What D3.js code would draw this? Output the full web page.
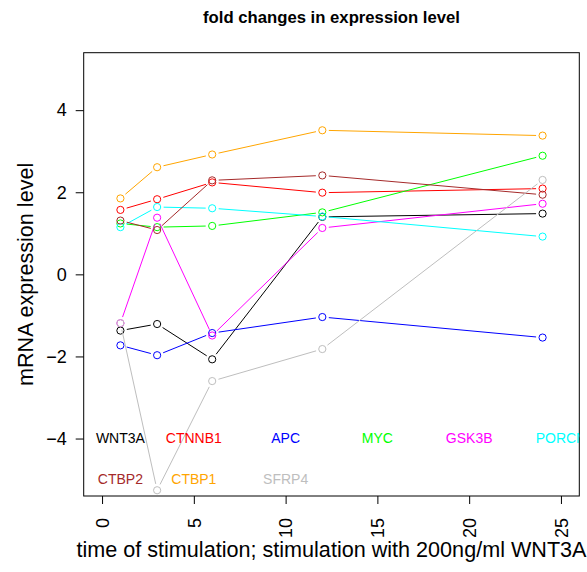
<!DOCTYPE html>
<html>
<head>
<meta charset="utf-8">
<script src="https://cdn.jsdelivr.net/npm/d3@7"></script>
<style>
  body { margin: 0; background: #fff; }
  svg { display: block; font-family: "Liberation Sans", Arial, sans-serif; }
</style>
</head>
<body>
<svg id="chart" width="587" height="572"></svg>
<script>
// time points (hours)
const times = [1, 3, 6, 12, 24];

const genes = ["WNT3A", "CTNNB1", "APC", "MYC", "GSK3B", "PORCN", "CTBP2", "CTBP1", "SFRP4"];
const geneColors = ["#000000", "#ff0000", "#0000ff", "#00ff00", "#ff00ff", "#00ffff", "#a52a2a", "#ffa500", "#bebebe"];

// fold changes
const wnt3a  = [-1.37, -1.21, -2.07, 1.40, 1.48];
const ctnnb1 = [1.57, 1.83, 2.24, 1.99, 2.09];
const apc    = [-1.73, -1.97, -1.43, -1.04, -1.54];
const myc    = [1.24, 1.15, 1.18, 1.51, 2.89];
const gsk3b  = [-1.19, 1.38, -1.49, 1.13, 1.72];
const porcn  = [1.15, 1.64, 1.61, 1.41, 0.92];
const ctbp2  = [1.31, 1.08, 2.29, 2.41, 1.94];
const ctbp1  = [1.85, 2.61, 2.92, 3.51, 3.38];
const sfrp4  = [-1.19, -5.26, -2.60, -1.82, 2.30];
const seriesValues = [wnt3a, ctnnb1, apc, myc, gsk3b, porcn, ctbp2, ctbp1, sfrp4];

// label positions inside the plot (data coords)
const labelX = [1, 5, 10, 15, 20, 25, 1, 5, 10];
const labelY = [-4, -4, -4, -4, -4, -4, -5, -5, -5];

const xTicks = [0, 5, 10, 15, 20, 25];
const yTicks = [-4, -2, 0, 2, 4];

const svg = d3.select("#chart");
const box = { left: 83.7, right: 579.3, top: 52.7, bottom: 496 };

const x = d3.scaleLinear().domain([-1, 26]).range([box.left, box.right]);
const y = d3.scaleLinear().domain([-5.4, 5.4]).range([box.bottom, box.top]);

svg.append("defs").append("clipPath").attr("id", "plotclip")
  .append("rect")
  .attr("x", box.left).attr("y", box.top)
  .attr("width", box.right - box.left).attr("height", box.bottom - box.top);

// title
svg.append("text")
  .attr("x", (box.left + box.right) / 2).attr("y", 23)
  .attr("text-anchor", "middle")
  .style("font-size", "16.7px").style("font-weight", "bold")
  .text("fold changes in expression level");

// axes
const xAxis = svg.append("g")
  .attr("transform", `translate(0,${box.bottom})`)
  .call(d3.axisBottom(x).tickValues(xTicks).tickSize(8).tickSizeOuter(0));
xAxis.select(".domain").remove();
xAxis.selectAll("line").attr("stroke", "#000");
xAxis.selectAll("text")
  .attr("transform", "rotate(-90)")
  .attr("text-anchor", "end")
  .attr("x", -22).attr("y", 0).attr("dy", "0.35em")
  .style("font-size", "18px").attr("fill", "#000")
  .style("font-family", "'Liberation Sans', Arial, sans-serif");

const yAxis = svg.append("g")
  .attr("transform", `translate(${box.left},0)`)
  .call(d3.axisLeft(y).tickValues(yTicks).tickSize(8).tickPadding(9).tickSizeOuter(0)
    .tickFormat(d => d < 0 ? "\u2212" + Math.abs(d) : d));
yAxis.select(".domain").remove();
yAxis.selectAll("line").attr("stroke", "#000");
yAxis.selectAll("text")
  .style("font-size", "18px").attr("fill", "#000")
  .style("font-family", "'Liberation Sans', Arial, sans-serif");

// plot box
svg.append("rect")
  .attr("x", box.left).attr("y", box.top)
  .attr("width", box.right - box.left).attr("height", box.bottom - box.top)
  .attr("fill", "none").attr("stroke", "#000").attr("stroke-width", 1);

// axis labels
svg.append("text")
  .attr("x", (box.left + box.right) / 2).attr("y", 557)
  .attr("text-anchor", "middle").style("font-size", "21.6px")
  .text("time of stimulation; stimulation with 200ng/ml WNT3A");

svg.append("text")
  .attr("transform", `translate(33,${(box.top + box.bottom) / 2}) rotate(-90)`)
  .attr("text-anchor", "middle").style("font-size", "21.6px")
  .text("mRNA expression level");

// lines + points, R type="b" style (segments stop short of the circles)
const plot = svg.append("g").attr("clip-path", "url(#plotclip)");
const gap = 6.5;
const r = 3.6;

seriesValues.forEach((vals, i) => {
  const g = plot.append("g");
  const pts = times.map((t, k) => [x(t), y(vals[k])]);
  const segs = d3.pairs(pts).map(([a, b]) => {
    const dx = b[0] - a[0], dy = b[1] - a[1];
    const len = Math.hypot(dx, dy);
    const ux = dx / len, uy = dy / len;
    return [a[0] + ux * gap, a[1] + uy * gap, b[0] - ux * gap, b[1] - uy * gap, len];
  }).filter(s => s[4] > 2 * gap);

  g.selectAll("line").data(segs).join("line")
    .attr("x1", d => d[0]).attr("y1", d => d[1])
    .attr("x2", d => d[2]).attr("y2", d => d[3])
    .attr("stroke", geneColors[i]).attr("stroke-width", 1);

  g.selectAll("circle").data(pts).join("circle")
    .attr("cx", d => d[0]).attr("cy", d => d[1]).attr("r", r)
    .attr("fill", "none").attr("stroke", geneColors[i]).attr("stroke-width", 1);
});

// gene labels
plot.selectAll("text.gene").data(genes).join("text")
  .attr("class", "gene")
  .attr("x", (d, i) => x(labelX[i]))
  .attr("y", (d, i) => y(labelY[i]))
  .attr("dy", "0.35em")
  .attr("text-anchor", "middle")
  .style("font-size", "14px")
  .attr("fill", (d, i) => geneColors[i])
  .text(d => d);
</script>
</body>
</html>
